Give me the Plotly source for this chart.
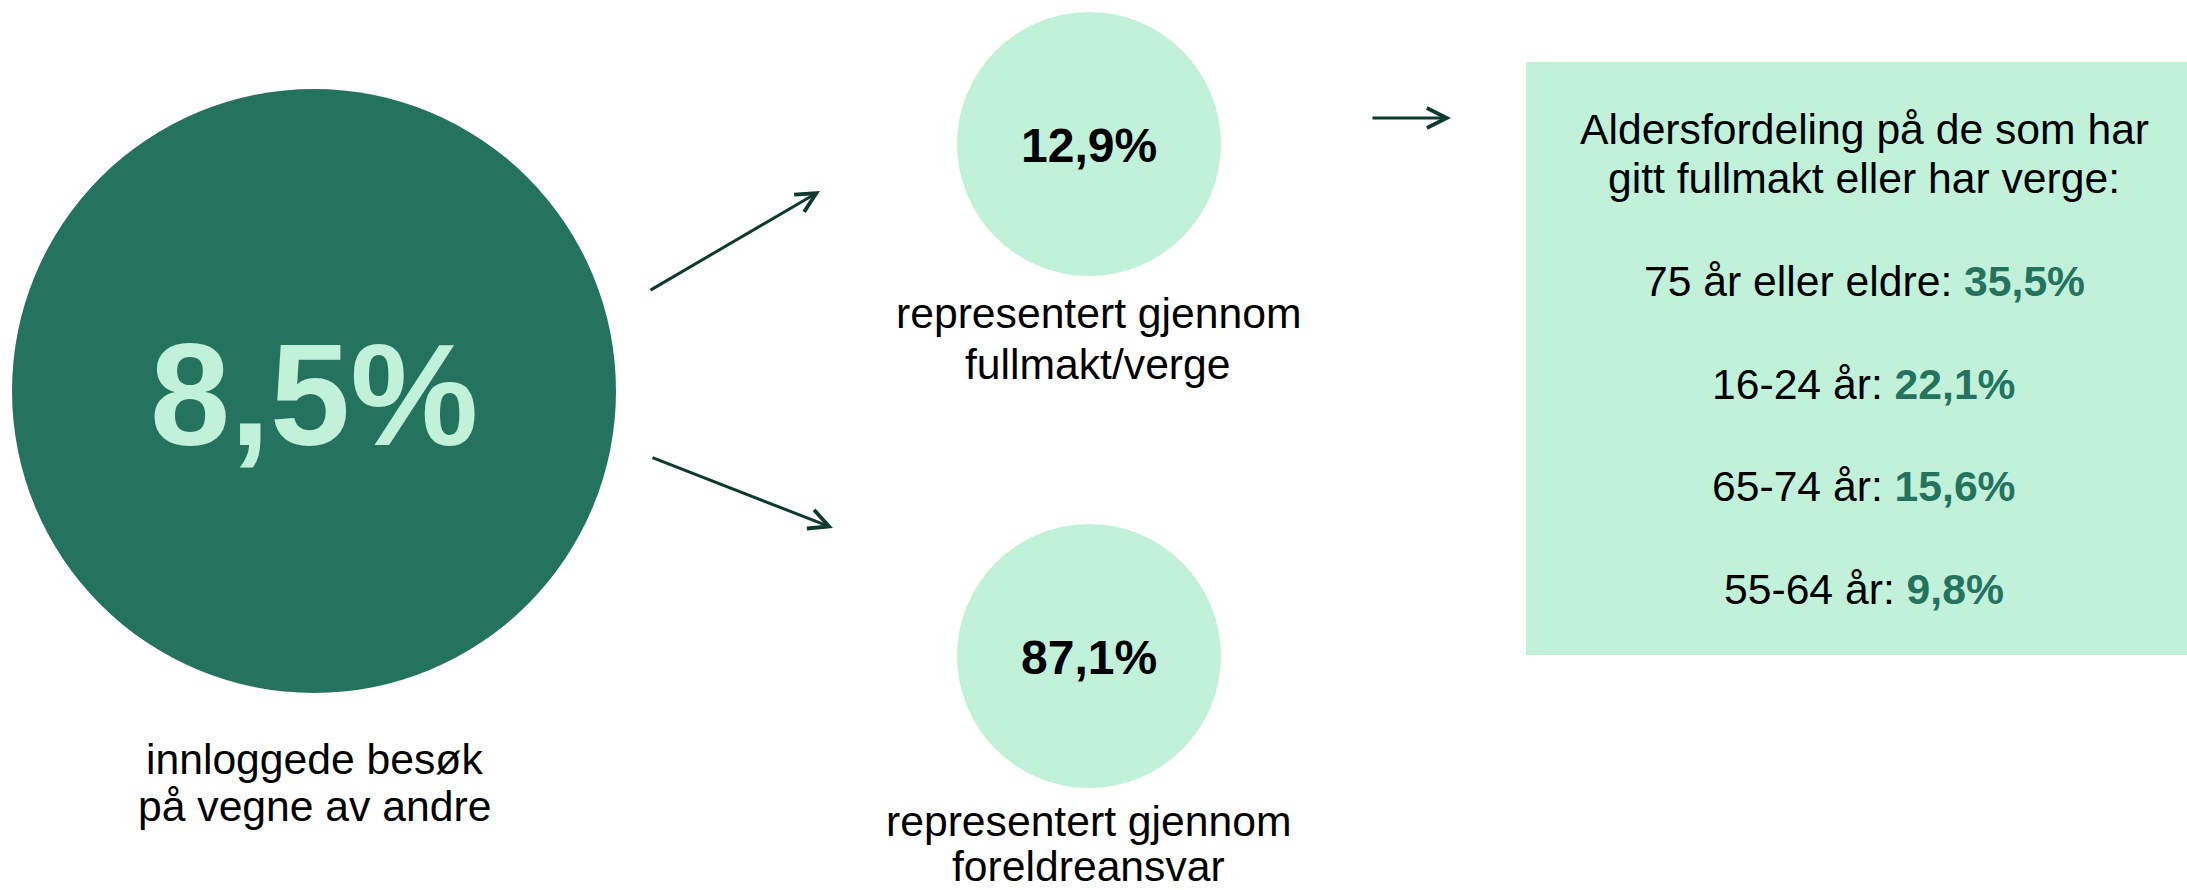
import plotly.graph_objects as go

# ---------------- data ----------------
total_share = 8.5
total_label = ["innloggede besøk", "på vegne av andre"]
channel_shares = [12.9, 87.1]
channel_labels = [["representert gjennom", "fullmakt/verge"],
                  ["representert gjennom", "foreldreansvar"]]
box_title = ["Aldersfordeling på de som har", "gitt fullmakt eller har verge:"]
age_groups = ["75 år eller eldre", "16-24 år", "65-74 år", "55-64 år"]
age_shares = [35.5, 22.1, 15.6, 9.8]

# ---------------- styles / layout ----------------
W, H = 2187, 890
DARK = "#24735F"
MINT = "#C2F1DA"
ARROW = "#0E3B30"
FONT = "Liberation Sans, Arial, sans-serif"
FS = 42.67


def pct(v):
    return f"{v:.1f}".replace(".", ",") + "%"


big = dict(cx=314, cy=391, r=302)
small = [dict(cx=1089, cy=144, r=132), dict(cx=1089, cy=656, r=132)]
small_label_x = [1098, 1088]
small_label_y = [[313, 364], [821, 866]]
big_label_y = [759, 806]
box = dict(x0=1526, x1=2200, y0=62, y1=655)
box_cx = 1864
title_y = [129, 178]
age_y = [281, 384, 486, 589]
arrows = [((649, 291), (820, 191)), ((651, 457), (833, 528)), ((1371, 118), (1451, 118))]

fig = go.Figure()
shapes = []
annotations = []

# big circle
shapes.append(dict(type="circle", xref="x", yref="y",
                   x0=big["cx"] - big["r"], x1=big["cx"] + big["r"],
                   y0=big["cy"] - big["r"], y1=big["cy"] + big["r"],
                   fillcolor=DARK, line=dict(width=0), layer="below"))
annotations.append(dict(x=big["cx"], y=395, text=f"<b>{pct(total_share)}</b>",
                        showarrow=False, xanchor="center", yanchor="middle",
                        font=dict(family=FONT, size=144, color=MINT)))
for t, yy in zip(total_label, big_label_y):
    annotations.append(dict(x=big["cx"], y=yy, text=t, showarrow=False,
                            xanchor="center", yanchor="middle",
                            font=dict(family=FONT, size=FS, color="black")))

# small circles
for c, v, labs, lx, lys, ty in zip(small, channel_shares, channel_labels,
                                    small_label_x, small_label_y, [145, 657]):
    shapes.append(dict(type="circle", xref="x", yref="y",
                       x0=c["cx"] - c["r"], x1=c["cx"] + c["r"],
                       y0=c["cy"] - c["r"], y1=c["cy"] + c["r"],
                       fillcolor=MINT, line=dict(width=0), layer="below"))
    annotations.append(dict(x=c["cx"], y=ty, text=f"<b>{pct(v)}</b>",
                            showarrow=False, xanchor="center", yanchor="middle",
                            font=dict(family=FONT, size=48, color="black")))
    for t, yy in zip(labs, lys):
        annotations.append(dict(x=lx, y=yy, text=t, showarrow=False,
                                xanchor="center", yanchor="middle",
                                font=dict(family=FONT, size=FS, color="black")))

# box
shapes.append(dict(type="rect", xref="x", yref="y", x0=box["x0"], x1=box["x1"],
                   y0=box["y0"], y1=box["y1"], fillcolor=MINT,
                   line=dict(width=0), layer="below"))
for t, yy in zip(box_title, title_y):
    annotations.append(dict(x=box_cx, y=yy, text=t, showarrow=False,
                            xanchor="center", yanchor="middle",
                            font=dict(family=FONT, size=FS, color="black")))
for g, v, yy in zip(age_groups, age_shares, age_y):
    annotations.append(dict(x=box_cx, y=yy,
                            text=f"{g}: <span style='color:{DARK}'><b>{pct(v)}</b></span>",
                            showarrow=False, xanchor="center", yanchor="middle",
                            font=dict(family=FONT, size=FS, color="black")))

# arrows
for (tx, ty_), (hx, hy) in arrows:
    annotations.append(dict(x=hx, y=hy, ax=tx, ay=ty_, xref="x", yref="y",
                            axref="x", ayref="y", text="", showarrow=True,
                            arrowhead=5, arrowsize=1.3, arrowwidth=3,
                            arrowcolor=ARROW, standoff=0))

fig.update_layout(
    width=W, height=H, margin=dict(l=0, r=0, t=0, b=0),
    paper_bgcolor="white", plot_bgcolor="white",
    xaxis=dict(range=[0, W], visible=False, fixedrange=True),
    yaxis=dict(range=[H, 0], visible=False, fixedrange=True),
    shapes=shapes, annotations=annotations, showlegend=False,
)

fig.write_html("out.html", config={"displayModeBar": False},
               post_script="document.body.style.margin='0';document.body.style.overflow='hidden';")
